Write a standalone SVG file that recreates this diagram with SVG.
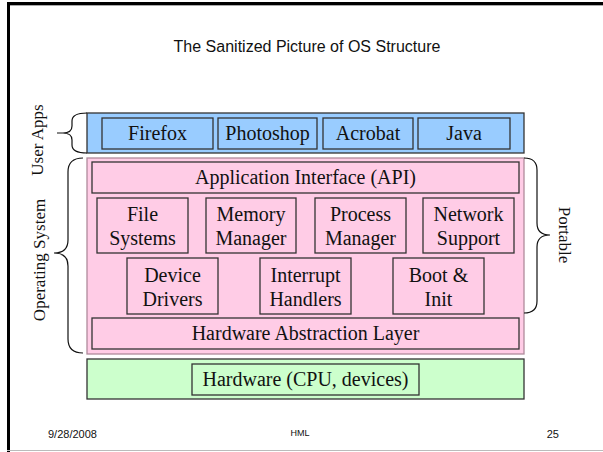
<svg xmlns="http://www.w3.org/2000/svg" width="603" height="452" viewBox="0 0 603 452">
  <style>
    .t { font-family: "Liberation Serif", "Times New Roman", serif; font-size: 20px; fill: #111; text-anchor: middle; }
    .side { font-family: "Liberation Serif", "Times New Roman", serif; font-size: 17px; fill: #111; text-anchor: middle; }
    .sans { font-family: "Liberation Sans", Arial, sans-serif; fill: #111; }
    .blue { fill: #99ccff; stroke: #333; stroke-width: 1.3; }
    .pink { fill: #ffcce6; stroke: #333; stroke-width: 1.3; }
    .green { fill: #ccffcc; stroke: #333; stroke-width: 1.3; }
    .band-pink { fill: #ffcce6; stroke: #b08a9c; stroke-width: 1.3; }
    .brace { fill: none; stroke: #111; stroke-width: 1.2; }
  </style>

  <!-- slide frame -->
  <rect x="0" y="0" width="603" height="452" fill="#fff"/>
  <line x1="7" y1="3.5" x2="603" y2="3.5" stroke="#000" stroke-width="3"/>
  <line x1="7" y1="5.5" x2="603" y2="5.5" stroke="#aaa" stroke-width="1"/>
  <line x1="8.5" y1="2" x2="8.5" y2="452" stroke="#000" stroke-width="3"/>
  <line x1="7" y1="450.5" x2="603" y2="450.5" stroke="#bbb" stroke-width="1"/>

  <text class="sans" x="307" y="52" font-size="16" text-anchor="middle">The Sanitized Picture of OS Structure</text>

  <!-- user applications layer -->
  <g id="user-apps">
    <rect class="blue" x="87" y="113" width="437" height="40"/>
    <g id="firefox"><rect class="blue" x="102" y="118" width="111" height="31"/><text class="t" x="157.5" y="140">Firefox</text></g>
    <g id="photoshop"><rect class="blue" x="218" y="118" width="99" height="31"/><text class="t" x="267.5" y="140">Photoshop</text></g>
    <g id="acrobat"><rect class="blue" x="323" y="118" width="90" height="31"/><text class="t" x="368" y="140">Acrobat</text></g>
    <g id="java"><rect class="blue" x="418" y="118" width="92" height="31"/><text class="t" x="464" y="140">Java</text></g>
  </g>

  <!-- operating system layer -->
  <g id="operating-system">
    <rect class="band-pink" x="87" y="158" width="437" height="196"/>
    <g id="api"><rect class="pink" x="92" y="162" width="427" height="31"/><text class="t" x="305.5" y="184">Application Interface (API)</text></g>
    <g id="file-systems"><rect class="pink" x="97" y="198" width="91" height="55"/><text class="t" x="142.5" y="221">File</text><text class="t" x="142.5" y="245">Systems</text></g>
    <g id="memory-manager"><rect class="pink" x="206" y="198" width="90" height="55"/><text class="t" x="251" y="221">Memory</text><text class="t" x="251" y="245">Manager</text></g>
    <g id="process-manager"><rect class="pink" x="315" y="198" width="91" height="55"/><text class="t" x="360.5" y="221">Process</text><text class="t" x="360.5" y="245">Manager</text></g>
    <g id="network-support"><rect class="pink" x="423" y="198" width="91" height="55"/><text class="t" x="468.5" y="221">Network</text><text class="t" x="468.5" y="245">Support</text></g>
    <g id="device-drivers"><rect class="pink" x="127" y="258" width="91" height="56"/><text class="t" x="172.5" y="282">Device</text><text class="t" x="172.5" y="306">Drivers</text></g>
    <g id="interrupt-handlers"><rect class="pink" x="260" y="258" width="91" height="56"/><text class="t" x="305.5" y="282">Interrupt</text><text class="t" x="305.5" y="306">Handlers</text></g>
    <g id="boot-init"><rect class="pink" x="393" y="258" width="91" height="56"/><text class="t" x="438.5" y="282">Boot &amp;</text><text class="t" x="438.5" y="306">Init</text></g>
    <g id="hal"><rect class="pink" x="92" y="318" width="427" height="31"/><text class="t" x="305.5" y="340">Hardware Abstraction Layer</text></g>
  </g>

  <!-- hardware layer -->
  <g id="hardware-layer">
    <rect class="green" x="87" y="359" width="437" height="40"/>
    <g id="hardware"><rect class="green" x="192" y="364" width="227" height="31"/><text class="t" x="305.5" y="386">Hardware (CPU, devices)</text></g>
  </g>

  <!-- grouping braces -->
  <g id="braces">
    <path class="brace" d="M87,113 Q72,113 72,121 L72,126 Q72,133 63,133 L57,133 M63,133 Q72,133 72,140 L72,145 Q72,153 87,153"/>
    <path class="brace" d="M83,158 Q68,158 68,172 L68,240 Q68,253 54,253 Q68,253 68,266 L68,339 Q68,353 83,353"/>
    <path class="brace" d="M524,158 Q537,158 537,170 L537,223 Q537,235 550,235 Q537,235 537,247 L537,301 Q537,313 524,313"/>
  </g>

  <text class="side" transform="translate(43,140) rotate(-90)">User Apps</text>
  <text class="side" transform="translate(45,260) rotate(-90)">Operating System</text>
  <text class="side" transform="translate(559,235) rotate(90)">Portable</text>

  <!-- footer -->
  <text class="sans" x="48" y="438" font-size="11">9/28/2008</text>
  <text class="sans" x="300" y="436" font-size="9" text-anchor="middle">HML</text>
  <text class="sans" x="559" y="438" font-size="11" text-anchor="end">25</text>
</svg>
